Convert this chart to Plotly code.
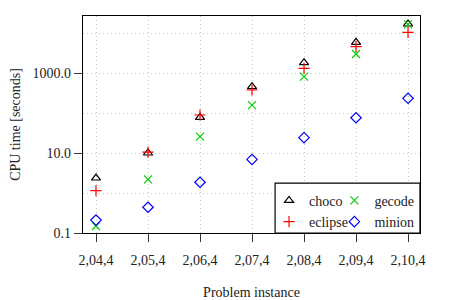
import plotly.graph_objects as go

categories = ["2,04,4", "2,05,4", "2,06,4", "2,07,4", "2,08,4", "2,09,4", "2,10,4"]
choco = [2.37, 10.0, 78, 456, 1817, 5850, 16800]
eclipse = [1.14, 10.5, 89, 376, 1310, 4550, 10400]
gecode = [0.15, 2.2, 25.6, 158, 810, 2985, 16500]
minion = [0.21, 0.44, 1.86, 6.9, 24.2, 76, 233]
ytick_vals = [0.1, 10, 1000]
ytick_text = ["0.1", "10.0", "1000.0"]
minor_grid = [1, 100, 10000]

FONT = "Liberation Serif, DejaVu Serif, serif"
xs = list(range(len(categories)))

fig = go.Figure()
series = [
    ("choco", choco, "triangle-up-open", "#000000", "legend"),
    ("eclipse", eclipse, "cross-thin-open", "#ff0000", "legend"),
    ("gecode", gecode, "x-thin-open", "#00cc00", "legend2"),
    ("minion", minion, "diamond-open", "#0000ff", "legend2"),
]
for name, vals, sym, col, lg in series:
    fig.add_trace(go.Scatter(
        x=xs, y=vals, mode="markers", name=name, legend=lg,
        marker=dict(symbol=sym, size=8, color=col, line=dict(width=1.2, color=col)),
    ))

legend_common = dict(
    orientation="v", yanchor="top", y=0.222, xanchor="left",
    borderwidth=0, bgcolor="rgba(0,0,0,0)",
    font=dict(family=FONT, size=14), tracegroupgap=0, itemwidth=30,
)
fig.update_layout(
    width=462, height=292,
    margin=dict(l=75, r=50, t=8, b=67, autoexpand=False),
    paper_bgcolor="white", plot_bgcolor="white",
    font=dict(family=FONT, size=14, color="#222222"),
    showlegend=True,
    legend=dict(x=0.552, **legend_common),
    legend2=dict(x=0.746, **legend_common),
    shapes=[dict(type="rect", xref="paper", yref="paper", x0=0.570, x1=1.0,
                 y0=0, y1=0.230, fillcolor="white",
                 line=dict(color="#000000", width=1.2), layer="above")],
)
fig.update_xaxes(
    range=[-0.25, 6.23], tickvals=xs, ticktext=categories,
    showline=True, linecolor="#000000", linewidth=1.2, mirror=True,
    ticks="outside", ticklen=8, tickcolor="#333333", tickwidth=1.2,
    ticklabelstandoff=6,
    showgrid=True, gridcolor="#c8c8c8", griddash="1px,3px", gridwidth=1,
    zeroline=False, automargin=False,
    title=dict(text="Problem instance", font=dict(family=FONT, size=14), standoff=22),
)
fig.update_yaxes(
    type="log", range=[-1, 4.425],
    tickvals=ytick_vals, ticktext=ytick_text,
    showline=True, linecolor="#000000", linewidth=1.2, mirror=True,
    ticks="outside", ticklen=8, tickcolor="#333333", tickwidth=1.2,
    showgrid=True, gridcolor="#c8c8c8", griddash="1px,3px", gridwidth=1,
    minor=dict(tickvals=minor_grid, showgrid=True, gridcolor="#c8c8c8",
               griddash="1px,3px", ticklen=0),
    zeroline=False, automargin=False,
    title=dict(text="CPU time [seconds]", font=dict(family=FONT, size=14), standoff=10),
)

fig.write_html("out.html")
